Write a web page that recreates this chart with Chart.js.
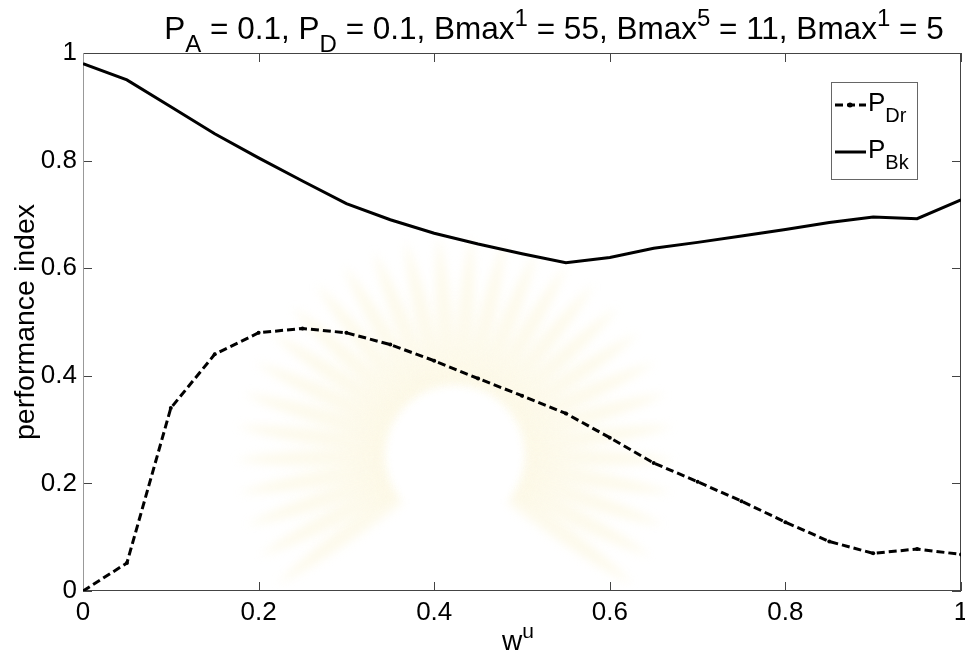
<!DOCTYPE html>
<html>
<head>
<meta charset="utf-8">
<script src="https://cdn.jsdelivr.net/npm/chart.js@4.4.1/dist/chart.umd.min.js"></script>
<style>
  html, body { margin: 0; padding: 0; background: #fff; }
  canvas { display: block; }
</style>
</head>
<body>
<canvas id="perfChart" width="965" height="657"></canvas>
<script>
// weight w^u on the x axis
const wu = [0, 0.05, 0.1, 0.15, 0.2, 0.25, 0.3, 0.35, 0.4, 0.45, 0.5,
            0.55, 0.6, 0.65, 0.7, 0.75, 0.8, 0.85, 0.9, 0.95, 1];
const pDr = [0, 0.052, 0.34, 0.44, 0.48, 0.488, 0.48, 0.458, 0.428, 0.395, 0.363,
             0.33, 0.285, 0.238, 0.203, 0.167, 0.128, 0.092, 0.07, 0.078, 0.068];
const pBk = [0.98, 0.95, 0.9, 0.85, 0.805, 0.762, 0.72, 0.69, 0.665, 0.645, 0.627,
             0.61, 0.62, 0.637, 0.648, 0.66, 0.672, 0.685, 0.695, 0.692, 0.727];
const xTicks = [0, 0.2, 0.4, 0.6, 0.8, 1];
const yTicks = [0, 0.2, 0.4, 0.6, 0.8, 1];

const FONT = "'Liberation Sans', Arial, sans-serif";

function toPoints(ys) {
    return wu.map((x, i) => ({ x: x, y: ys[i] }));
}

// draws a run of text pieces, some raised or lowered like tex sub/superscripts
function drawRich(ctx, parts, x, y, size, align) {
    const small = Math.round(size * 0.75);
    let width = 0;
    parts.forEach(p => {
        ctx.font = (p[1] ? small : size) + 'px ' + FONT;
        p.w = ctx.measureText(p[0]).width;
        width += p.w;
    });
    let cx = align === 'center' ? x - width / 2 : x;
    ctx.textAlign = 'left';
    ctx.textBaseline = 'alphabetic';
    parts.forEach(p => {
        let dy = 0;
        if (p[1] === 'sub') dy = size * 0.42;
        if (p[1] === 'sup') dy = -size * 0.42;
        ctx.font = (p[1] ? small : size) + 'px ' + FONT;
        ctx.fillText(p[0], cx, y + dy);
        cx += p.w;
    });
}

// faint seal printed behind the axes
function drawSeal(ctx) {
    const cx = 455, cy = 455;
    ctx.save();
    ctx.filter = 'blur(5px)';
    for (let i = 0; i < 30; i++) {
        const ang = Math.PI * (0.8 + i * 1.4 / 29);
        ctx.save();
        ctx.translate(cx, cy);
        ctx.rotate(ang);
        ctx.beginPath();
        ctx.moveTo(70, -8);
        ctx.quadraticCurveTo(165, -11, 220, 0);
        ctx.quadraticCurveTo(165, 11, 70, 8);
        ctx.closePath();
        ctx.fillStyle = 'rgba(248, 236, 185, 0.28)';
        ctx.fill();
        ctx.restore();
    }
    ctx.beginPath();
    ctx.arc(cx, cy, 62, 0, Math.PI * 2);
    ctx.fillStyle = '#fff';
    ctx.fill();
    ctx.restore();
}

const matlabBox = {
    id: 'matlabBox',
    beforeDraw(chart) {
        drawSeal(chart.ctx);
    },
    beforeDatasetsDraw(chart) {
        const { ctx, chartArea: a, scales: { x, y } } = chart;
        const tl = 9;
        ctx.save();
        ctx.lineWidth = 1;
        ctx.strokeStyle = '#444';
        ctx.beginPath();
        ctx.moveTo(a.left, a.top + 0.5); ctx.lineTo(a.right, a.top + 0.5);
        ctx.moveTo(a.right - 0.5, a.top); ctx.lineTo(a.right - 0.5, a.bottom);
        ctx.moveTo(a.left, a.bottom - 0.5); ctx.lineTo(a.right, a.bottom - 0.5);
        // inward tick marks on all four sides
        xTicks.forEach(v => {
            const px = Math.round(x.getPixelForValue(v)) + 0.5;
            ctx.moveTo(px, a.bottom); ctx.lineTo(px, a.bottom - tl);
            ctx.moveTo(px, a.top); ctx.lineTo(px, a.top + tl);
        });
        yTicks.forEach(v => {
            const py = Math.round(y.getPixelForValue(v)) + 0.5;
            ctx.moveTo(a.left, py); ctx.lineTo(a.left + tl, py);
            ctx.moveTo(a.right, py); ctx.lineTo(a.right - tl, py);
        });
        ctx.stroke();
        ctx.strokeStyle = '#999';
        ctx.beginPath();
        ctx.moveTo(a.left + 0.5, a.top); ctx.lineTo(a.left + 0.5, a.bottom);
        ctx.stroke();
        ctx.restore();
    },
    afterDraw(chart) {
        const { ctx, chartArea: a } = chart;
        ctx.save();
        ctx.fillStyle = '#000';

        // title
        drawRich(ctx, [
            ['P'], ['A', 'sub'], [' = 0.1, P'], ['D', 'sub'], [' = 0.1, Bmax'], ['1', 'sup'],
            [' = 55, Bmax'], ['5', 'sup'], [' = 11, Bmax'], ['1', 'sup'], [' = 5']
        ], 554, 39, 31.5, 'center');

        // x axis label
        drawRich(ctx, [['w'], ['u', 'sup']], (a.left + a.right) / 2 - 4, 650, 28, 'center');

        // y axis label
        ctx.save();
        ctx.translate(26, (a.top + a.bottom) / 2);
        ctx.rotate(-Math.PI / 2);
        ctx.font = '28.5px ' + FONT;
        ctx.textAlign = 'center';
        ctx.textBaseline = 'middle';
        ctx.fillText('performance index', 0, 0);
        ctx.restore();

        // legend box
        const lx = 831, ly = 82, lw = 86, lh = 97;
        ctx.fillStyle = '#fff';
        ctx.fillRect(lx, ly, lw, lh);
        ctx.strokeStyle = '#666';
        ctx.lineWidth = 1;
        ctx.strokeRect(lx + 0.5, ly + 0.5, lw, lh);
        ctx.fillStyle = '#000';
        ctx.strokeStyle = '#000';
        ctx.lineWidth = 3;
        // P_Dr entry: dashed with dot marker
        ctx.setLineDash([8, 4]);
        ctx.beginPath(); ctx.moveTo(835, 105); ctx.lineTo(866, 105); ctx.stroke();
        ctx.setLineDash([]);
        ctx.beginPath(); ctx.arc(850, 105, 2.5, 0, Math.PI * 2); ctx.fill();
        drawRich(ctx, [['P'], ['Dr', 'sub']], 868, 111, 26, 'left');
        // P_Bk entry: solid
        ctx.beginPath(); ctx.moveTo(835, 152); ctx.lineTo(866, 152); ctx.stroke();
        drawRich(ctx, [['P'], ['Bk', 'sub']], 868, 158, 26, 'left');
        ctx.restore();
    }
};

const ctx = document.getElementById('perfChart').getContext('2d');
const chart = new Chart(ctx, {
    type: 'line',
    data: {
        datasets: [{
            label: 'P_Dr',
            data: toPoints(pDr),
            borderColor: '#000',
            backgroundColor: '#000',
            borderWidth: 3,
            borderDash: [8, 4],
            pointRadius: 2,
            pointBorderWidth: 0,
            fill: false,
            tension: 0
        }, {
            label: 'P_Bk',
            data: toPoints(pBk),
            borderColor: '#000',
            backgroundColor: '#000',
            borderWidth: 3,
            pointRadius: 0,
            fill: false,
            tension: 0
        }]
    },
    options: {
        responsive: false,
        animation: false,
        layout: { padding: { top: 53, right: 2, left: 0, bottom: 0 } },
        plugins: {
            legend: { display: false },
            title: { display: false },
            tooltip: { enabled: false }
        },
        scales: {
            x: {
                type: 'linear',
                min: 0,
                max: 1,
                grid: { display: false, drawTicks: false },
                border: { display: false },
                ticks: {
                    stepSize: 0.2,
                    padding: 6,
                    maxRotation: 0,
                    color: '#000',
                    font: { family: FONT, size: 26 },
                    callback: v => +v.toFixed(1)
                },
                afterFit: s => { s.height = 66; s.paddingLeft = 0; s.paddingRight = 0; }
            },
            y: {
                min: 0,
                max: 1,
                grid: { display: false, drawTicks: false },
                border: { display: false },
                ticks: {
                    stepSize: 0.2,
                    padding: 6,
                    color: '#000',
                    font: { family: FONT, size: 26 },
                    callback: v => +v.toFixed(1)
                },
                afterFit: s => { s.width = 83; s.paddingTop = 0; s.paddingBottom = 0; }
            }
        }
    },
    plugins: [matlabBox]
});
</script>
</body>
</html>
